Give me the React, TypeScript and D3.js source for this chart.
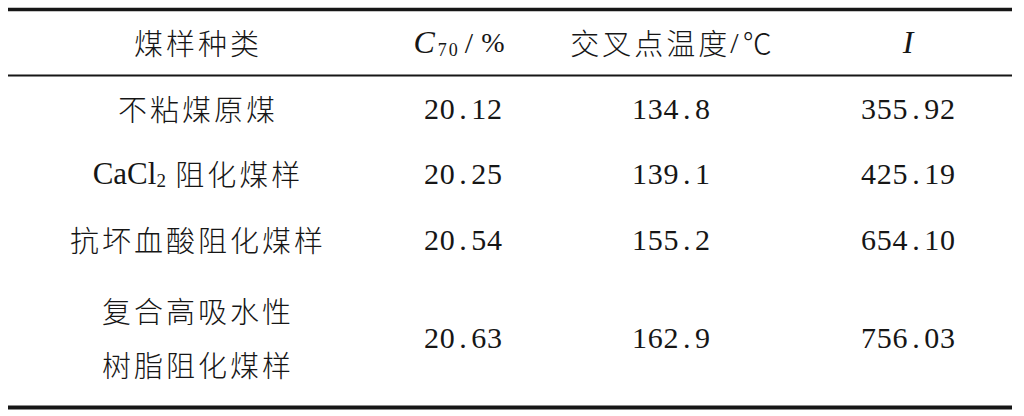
import * as d3 from "d3"

// 表格数据
const samples = ["不粘煤原煤", "CaCl2 阻化煤样", "抗坏血酸阻化煤样", "复合高吸水性|树脂阻化煤样"]
const c70 = [20.12, 20.25, 20.54, 20.63]
const crossTemp = [134.8, 139.1, 155.2, 162.9]
const indexI = [355.92, 425.19, 654.1, 756.03]
const rowUnits = [1, 1, 1, 2]

const W = 1024
const H = 416
const cjk = "'Noto Sans CJK SC', sans-serif"
const serif = "'Liberation Serif', 'DejaVu Serif', serif"
const ink = "#161616"

// 等宽数字：每个字符占同样宽度（包括小数点）
function MonoNum({ s, cx, cy }: { s: string; cx: number; cy: number }) {
    const adv = 15.8
    const x0 = cx - (s.length * adv) / 2 + adv / 2
    return (
        <text y={cy} textAnchor="middle" dominantBaseline="central" style={{ fontFamily: serif, fontSize: 30 }}>
            {s.split("").map((c, k) => (
                <tspan key={k} x={x0 + k * adv}>{c}</tspan>
            ))}
        </text>
    )
}

export default function App() {
    const cols = ["name", "c70", "temp", "i"]
    const x = d3.scaleOrdinal<string, number>().domain(cols).range([198, 463, 671, 908])

    // 行高：累计单位映射到像素
    const cum = d3.cumsum(rowUnits)
    const y = d3.scaleLinear().domain([0, cum[cum.length - 1]]).range([77, 405])
    const rowMid = rowUnits.map((u, i) => y(cum[i] - u / 2) - 2)

    const f2 = d3.format(".2f")
    const f1 = d3.format(".1f")

    const cjkStyle = { fontFamily: cjk, fontSize: 29, letterSpacing: 3, fontWeight: 300 }

    const renderName = (s: string, cy: number) => {
        if (s.includes("|")) {
            return s.split("|").map((l, k) => (
                <text key={k} x={x("name")} y={cy + (k - 0.5) * 54} textAnchor="middle" dominantBaseline="central" style={cjkStyle}>{l}</text>
            ))
        }
        if (s.startsWith("CaCl2")) {
            return (
                <text x={x("name")} y={cy} textAnchor="middle" dominantBaseline="central">
                    <tspan style={{ fontFamily: serif, fontSize: 31 }}>CaCl</tspan>
                    <tspan style={{ fontFamily: serif, fontSize: 19 }} dy={7}>2</tspan>
                    <tspan dy={-7} style={cjkStyle}>{" " + s.slice(6)}</tspan>
                </text>
            )
        }
        return <text x={x("name")} y={cy} textAnchor="middle" dominantBaseline="central" style={cjkStyle}>{s}</text>
    }

    const headY = 42

    return (
        <svg width={W} height={H} viewBox={`0 0 ${W} ${H}`} style={{ position: "absolute", left: 0, top: 0, background: "#fff" }} fill={ink}>
            <line x1={8} x2={1012} y1={9.5} y2={9.5} stroke={ink} strokeWidth={3.5} />
            <line x1={8} x2={1012} y1={75.5} y2={75.5} stroke={ink} strokeWidth={1.8} />
            <line x1={8} x2={1012} y1={407.5} y2={407.5} stroke={ink} strokeWidth={4} />

            {/* 表头 */}
            <text x={x("name")} y={headY} textAnchor="middle" dominantBaseline="central" style={cjkStyle}>煤样种类</text>
            <text x={x("c70") - 4} y={headY} textAnchor="middle" dominantBaseline="central" style={{ fontFamily: serif }}>
                <tspan style={{ fontSize: 32, fontStyle: "italic" }}>C</tspan>
                <tspan style={{ fontSize: 18, letterSpacing: 2 }} dy={8} dx={3}>70</tspan>
                <tspan style={{ fontSize: 30 }} dy={-8} dx={5}>/</tspan>
                <tspan style={{ fontSize: 28 }} dx={8}>%</tspan>
            </text>
            <text x={x("temp")} y={headY} textAnchor="middle" dominantBaseline="central">
                <tspan style={cjkStyle}>交叉点温度</tspan>
                <tspan style={{ fontFamily: serif, fontSize: 30 }}>/</tspan>
                <tspan dx={4} style={{ fontFamily: cjk, fontSize: 29, fontWeight: 300 }}>℃</tspan>
            </text>
            <text x={x("i")} y={headY} textAnchor="middle" dominantBaseline="central" style={{ fontFamily: serif, fontSize: 32, fontStyle: "italic" }}>I</text>

            {/* 数据行 */}
            {samples.map((s, i) => (
                <g key={i}>
                    {renderName(s, rowMid[i])}
                    <MonoNum s={f2(c70[i])} cx={x("c70")} cy={rowMid[i]} />
                    <MonoNum s={f1(crossTemp[i])} cx={x("temp")} cy={rowMid[i]} />
                    <MonoNum s={f2(indexI[i])} cx={x("i")} cy={rowMid[i]} />
                </g>
            ))}
        </svg>
    )
}
